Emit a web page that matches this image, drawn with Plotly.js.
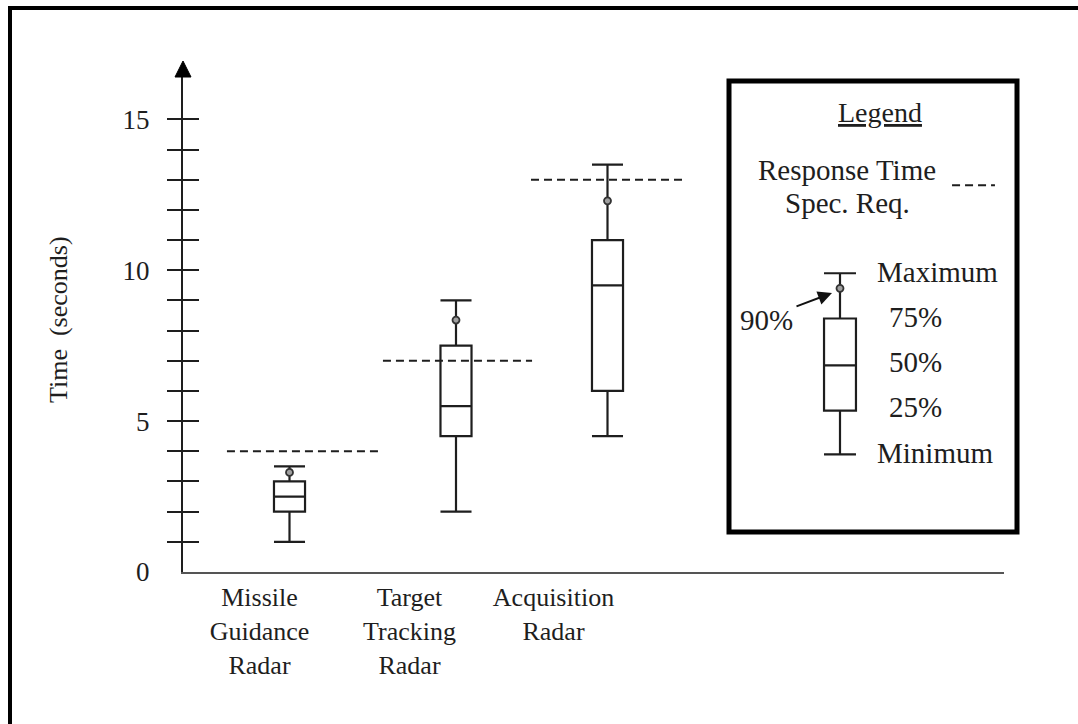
<!DOCTYPE html>
<html>
<head>
<meta charset="utf-8">
<script src="https://cdn.plot.ly/plotly-3.0.1.min.js"></script>
<style>html,body{margin:0;padding:0;background:#fff;}#chart{width:1078px;height:724px;}</style>
</head>
<body>
<div id="chart"></div>
<script>
// ---------------- data ----------------
const categories = ['Missile<br>Guidance<br>Radar', 'Target<br>Tracking<br>Radar', 'Acquisition<br>Radar'];
const minimum  = [1.0, 2.0, 4.5];
const q25      = [2.0, 4.5, 6.0];
const median   = [2.5, 5.5, 9.5];
const q75      = [3.0, 7.5, 11.0];
const maximum  = [3.5, 9.0, 13.5];
const p90      = [3.3, 8.35, 12.3];
const specReq  = [4, 7, 13];

const majorTicks = [0, 5, 10, 15];
const minorTicks = [1, 2, 3, 4, 5, 6, 7, 8, 9, 10, 11, 12, 13, 14, 15];

// legend glyph (illustrative box)
const legendBox = {min: 3.9, q1: 5.35, med: 6.85, q3: 8.4, p90: 9.4, max: 9.9};

// ---------------- layout constants ----------------
const boxPos    = [0.71, 1.82, 2.83];
const labelPos  = [0.51, 1.51, 2.47];
const specStart = [0.293, 1.333, 2.32];
const specEnd   = [1.313, 2.327, 3.333];
const legendPos = 4.38;
const legendDash = [5.127, 5.413];
const legendDashY = 12.82;

const L = 183, R = 1004, T = 75, B = 572;
const pxX = p => (p - L) / (R - L);
const pxY = p => (B - p) / (B - T);

const FONT = 'Liberation Serif, Times New Roman, serif';
const INK = '#1e1e1e';

// spec segments
const specX = [], specY = [];
specReq.forEach((v, i) => { specX.push(specStart[i], specEnd[i], null); specY.push(v, v, null); });

const traces = [
  {
    type: 'box', x: boxPos, q1: q25, median: median, q3: q75,
    lowerfence: minimum, upperfence: maximum,
    width: 0.207, whiskerwidth: 1, boxpoints: false,
    line: {color: INK, width: 2.2}, fillcolor: 'rgba(0,0,0,0)',
    hoverinfo: 'skip', showlegend: false
  },
  {
    type: 'scatter', mode: 'lines', x: specX, y: specY,
    line: {color: INK, width: 2, dash: '8px,5px'}, hoverinfo: 'skip', showlegend: false
  },
  {
    type: 'scatter', mode: 'markers', x: boxPos, y: p90,
    marker: {symbol: 'circle', size: 7, color: '#a0a0a0', line: {color: '#333', width: 1.8}},
    hoverinfo: 'skip', showlegend: false
  },
  // legend glyph
  {
    type: 'box', x: [legendPos], q1: [legendBox.q1], median: [legendBox.med], q3: [legendBox.q3],
    lowerfence: [legendBox.min], upperfence: [legendBox.max],
    width: 0.213, whiskerwidth: 1, boxpoints: false,
    line: {color: INK, width: 2.2}, fillcolor: 'rgba(0,0,0,0)',
    hoverinfo: 'skip', showlegend: false
  },
  {
    type: 'scatter', mode: 'markers', x: [legendPos], y: [legendBox.p90],
    marker: {symbol: 'circle', size: 7, color: '#a0a0a0', line: {color: '#333', width: 1.8}},
    hoverinfo: 'skip', showlegend: false
  },
  {
    type: 'scatter', mode: 'lines', x: legendDash, y: [legendDashY, legendDashY],
    line: {color: INK, width: 2, dash: '8px,5px'}, hoverinfo: 'skip', showlegend: false
  },
  // carriers for the tick overlay axes
  {type: 'scatter', x: [], y: [], yaxis: 'y2', hoverinfo: 'skip', showlegend: false},
  {type: 'scatter', x: [], y: [], yaxis: 'y3', hoverinfo: 'skip', showlegend: false}
];

const yRange = [0, 16.47];

function txt(text, px, py, size, xa) {
  return {xref: 'paper', yref: 'paper', x: pxX(px), y: pxY(py), text: text,
          xanchor: xa || 'center', yanchor: 'middle', showarrow: false,
          font: {family: FONT, size: size, color: INK}};
}

const layout = {
  width: 1078, height: 724,
  margin: {l: L, r: 1078 - R, t: T, b: 724 - B},
  paper_bgcolor: '#fff', plot_bgcolor: 'rgba(0,0,0,0)',
  font: {family: FONT, color: INK},
  showlegend: false,
  xaxis: {
    range: [0, (R - L) / 150], showgrid: false, zeroline: false,
    showline: true, linecolor: '#555', linewidth: 2,
    tickmode: 'array', tickvals: labelPos, ticktext: categories, ticks: '',
    tickfont: {family: FONT, size: 26, color: INK}, ticklabelstandoff: 1,
    fixedrange: true
  },
  yaxis: {
    range: yRange, showgrid: false, zeroline: false,
    showline: true, linecolor: INK, linewidth: 2,
    tickmode: 'array', tickvals: majorTicks, ticktext: majorTicks.map(String), ticks: '',
    tickfont: {family: FONT, size: 27, color: INK}, ticklabelstandoff: 26,
    fixedrange: true
  },
  yaxis2: {
    overlaying: 'y', side: 'left', anchor: 'x', range: yRange,
    showgrid: false, zeroline: false, showline: false, showticklabels: false,
    tickmode: 'array', tickvals: minorTicks, ticks: 'outside', ticklen: 15, tickwidth: 2, tickcolor: INK
  },
  yaxis3: {
    overlaying: 'y', side: 'left', anchor: 'x', range: yRange,
    showgrid: false, zeroline: false, showline: false, showticklabels: false,
    tickmode: 'array', tickvals: minorTicks, ticks: 'inside', ticklen: 16, tickwidth: 2, tickcolor: INK
  },
  shapes: [
    // outer frame
    {type: 'rect', xref: 'paper', yref: 'paper', x0: pxX(10), x1: pxX(1100), y0: pxY(8), y1: pxY(745),
     line: {color: '#000', width: 4}},
    // legend frame
    {type: 'rect', xref: 'paper', yref: 'paper', x0: pxX(729), x1: pxX(1017), y0: pxY(532), y1: pxY(81),
     line: {color: '#000', width: 5}},
    // arrow head on y axis
    {type: 'path', xref: 'paper', yref: 'paper',
     path: `M ${pxX(183)} ${pxY(61)} L ${pxX(175)} ${pxY(77)} L ${pxX(191)} ${pxY(77)} Z`,
     fillcolor: '#000', line: {color: '#000', width: 1}}
  ],
  annotations: [
    Object.assign(txt('Time  (seconds)', 58, 319, 26), {textangle: -90}),
    txt('<u>Legend</u>', 880, 112, 28),
    txt('Response Time', 847, 170, 29),
    txt('Spec. Req.', 847, 203, 29),
    txt('Maximum', 875, 272, 29, 'left'),
    txt('75%', 887, 317, 29, 'left'),
    txt('50%', 887, 362, 29, 'left'),
    txt('25%', 887, 407, 29, 'left'),
    txt('Minimum', 875, 453, 29, 'left'),
    txt('90%', 766, 320, 29),
    {xref: 'paper', yref: 'paper', x: pxX(832), y: pxY(293), text: '',
     showarrow: true, ax: -37, ay: 14, arrowhead: 2, arrowsize: 1.4, arrowwidth: 2, arrowcolor: '#111', standoff: 0}
  ]
};

Plotly.newPlot('chart', traces, layout, {staticPlot: true, displayModeBar: false});
</script>
</body>
</html>
